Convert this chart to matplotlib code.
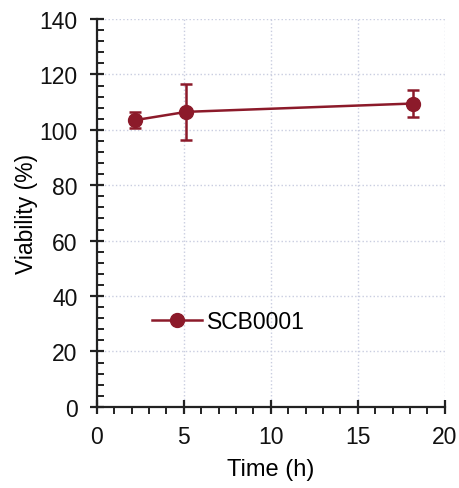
import matplotlib.pyplot as plt
from matplotlib.lines import Line2D
from matplotlib.ticker import MultipleLocator

# data
tempo = [2.2, 5.15, 18.15]
viabilidade = [103.5, 106.5, 109.5]
erro = [2.8, 10.0, 5.0]
serie = "SCB0001"

plt.rcParams["font.family"] = ["Liberation Sans", "DejaVu Sans"]
cor = "#8c1a2a"

fig = plt.figure(figsize=(4.59, 4.89), dpi=100)
ax = fig.add_axes([0.211, 0.166, 0.758, 0.793])

ax.errorbar(tempo, viabilidade, yerr=erro, color=cor, marker="o",
            markersize=10, linewidth=1.8, elinewidth=1.8, capsize=4.5,
            capthick=1.8, zorder=3)

ax.set_xlim(0, 20)
ax.set_ylim(0, 140)
ax.xaxis.set_major_locator(MultipleLocator(5))
ax.xaxis.set_minor_locator(MultipleLocator(1))
ax.yaxis.set_major_locator(MultipleLocator(20))
ax.yaxis.set_minor_locator(MultipleLocator(4))

ax.grid(True, which="major", color="#c9cde0", linestyle=":", linewidth=1.0)
ax.set_axisbelow(True)

for lado in ["top", "right"]:
    ax.spines[lado].set_visible(False)
for lado in ["left", "bottom"]:
    ax.spines[lado].set_linewidth(1.6)
    ax.spines[lado].set_color("#222222")

ax.tick_params(axis="both", which="major", direction="inout", length=10,
               width=1.6, labelsize=16.5, colors="#222222",
               labelcolor="#111111")
ax.tick_params(axis="x", which="major", pad=8)
ax.tick_params(axis="y", which="major", pad=9)
ax.tick_params(axis="y", which="minor", direction="in", length=5, width=1.4,
               colors="#222222")
ax.tick_params(axis="x", which="minor", direction="out", length=5, width=1.4,
               colors="#222222")

ax.set_xlabel("Time (h)", fontsize=17, labelpad=7)
ax.set_ylabel("Viability (%)", fontsize=16.5, labelpad=1)

marca = Line2D([], [], color=cor, marker="o", markersize=10, linewidth=1.8)
ax.legend([marca], [serie], loc="center left", bbox_to_anchor=(0.158, 0.22),
          frameon=False, fontsize=16.5, handlelength=2.2, handletextpad=0.2,
          borderpad=0, borderaxespad=0)

fig.savefig("out.png", dpi=100)
